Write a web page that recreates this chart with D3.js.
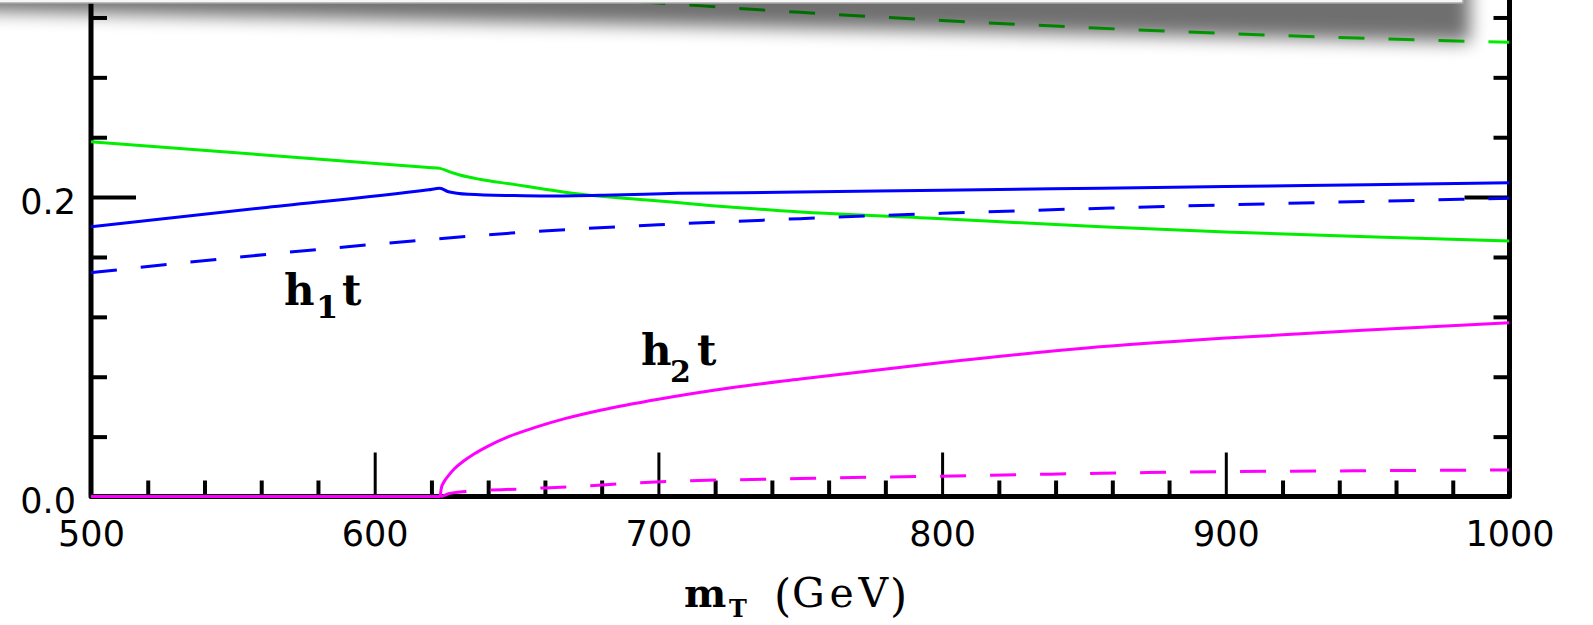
<!DOCTYPE html>
<html>
<head>
<meta charset="utf-8">
<script src="https://d3js.org/d3.v7.min.js"></script>
<style>
  body { margin: 0; background: #fff; }
  svg { display: block; }
  .tick-label text { font-family: "DejaVu Sans", sans-serif; font-size: 35px; fill: #000; }
  .label { font-family: "DejaVu Serif", serif; fill: #000; }
</style>
</head>
<body>
<div class="br-chart"></div>
<script>
// values (m_T in GeV)
var greenSolidX = [500, 560, 619, 623, 626, 630, 637, 649, 660, 672, 696, 719, 743, 800, 856, 900, 950, 1000];
var greenSolidY = [0.2370, 0.2283, 0.2198, 0.2192, 0.2172, 0.2148, 0.2119, 0.2085, 0.2052, 0.2020, 0.1981, 0.1943, 0.1909, 0.1855, 0.1802, 0.1767, 0.1735, 0.1707];

var greenDashX = [500, 600, 650, 700, 750, 800, 850, 900, 950, 1000];
var greenDashY = [0.358, 0.343, 0.336, 0.3297, 0.3234, 0.318, 0.3133, 0.3093, 0.306, 0.3034];

var blueSolidX = [500, 560, 619, 623, 626, 633, 649, 661, 684, 707, 743, 800, 856, 900, 950, 1000];
var blueSolidY = [0.1802, 0.1927, 0.2049, 0.2059, 0.2036, 0.2019, 0.2010, 0.2007, 0.2014, 0.2025, 0.2032, 0.2046, 0.2059, 0.2070, 0.2083, 0.2096];

var blueDashX = [500, 550, 600, 650, 700, 750, 800, 850, 900, 950, 1000];
var blueDashY = [0.1495, 0.1595, 0.1685, 0.1762, 0.1815, 0.1856, 0.1892, 0.1922, 0.1948, 0.1971, 0.1992];

var magSolidX = [500, 623, 623.5, 624.5, 626, 628, 631, 635, 640, 647, 656, 667, 680, 700, 725, 750, 800, 850, 900, 950, 1000];
var magSolidY = [0, 0, 0.0058, 0.0100, 0.0140, 0.0184, 0.0232, 0.0284, 0.0337, 0.0398, 0.0458, 0.0520, 0.0578, 0.0650, 0.0725, 0.0785, 0.0895, 0.0990, 0.1058, 0.1112, 0.1161];

var magDashX = [500, 623, 626, 632, 651, 676, 691, 750, 800, 856, 900, 950, 1000];
var magDashY = [0, 0, 0.0018, 0.0033, 0.0050, 0.0072, 0.0090, 0.0120, 0.0136, 0.0155, 0.0166, 0.0172, 0.0177];

var xMajorTicks = [500, 600, 700, 800, 900, 1000];
var xTickLabels = ["500", "600", "700", "800", "900", "1000"];
var yMajorTicks = [0.0, 0.2];
var yTickLabels = ["0.0", "0.2"];

var width = 1593,
    height = 625;

var svg = d3.select(".br-chart")
            .append("svg")
            .attr("width", width)
            .attr("height", height);

var x = d3.scaleLinear().domain([500, 1000]).range([91, 1509.5]);
var y = d3.scaleLinear().domain([0, 0.4]).range([496.5, -102.3]);

var xMinor = d3.range(500, 1001, 20).filter(function(v) { return v % 100 != 0; });
var yMinor = d3.range(1, 10).filter(function(i) { return i % 5 != 0; }).map(function(i) { return i * 0.04; });

function clean(g, w) {
  g.select(".domain").remove();
  g.selectAll("line").attr("stroke", "#000").attr("stroke-width", w);
}

// bottom axis ticks (pointing inward)
svg.append("g")
    .attr("transform", "translate(0," + y(0) + ")")
    .call(d3.axisTop(x).tickValues(xMinor).tickSize(16).tickFormat(""))
    .call(clean, 4);
svg.append("g")
    .attr("transform", "translate(0," + y(0) + ")")
    .call(d3.axisTop(x).tickValues(xMajorTicks.slice(1, -1)).tickSize(44).tickFormat(""))
    .call(clean, 3);

// left and right ticks
svg.append("g")
    .attr("transform", "translate(" + x(500) + ",0)")
    .call(d3.axisRight(y).tickValues(yMinor).tickSize(16).tickFormat(""))
    .call(clean, 4);
svg.append("g")
    .attr("transform", "translate(" + x(500) + ",0)")
    .call(d3.axisRight(y).tickValues(yMajorTicks).tickSize(45).tickFormat(""))
    .call(clean, 4);
svg.append("g")
    .attr("transform", "translate(" + x(1000) + ",0)")
    .call(d3.axisLeft(y).tickValues(yMinor).tickSize(16).tickFormat(""))
    .call(clean, 4);
svg.append("g")
    .attr("transform", "translate(" + x(1000) + ",0)")
    .call(d3.axisLeft(y).tickValues(yMajorTicks).tickSize(45).tickFormat(""))
    .call(clean, 4);

// tick labels
var xl = svg.append("g")
    .attr("class", "tick-label")
    .attr("transform", "translate(0," + y(0) + ")")
    .call(d3.axisBottom(x).tickValues(xMajorTicks).tickSize(0)
      .tickFormat(function(d, i) { return xTickLabels[i]; }));
xl.select(".domain").remove();
xl.selectAll("text").attr("y", 0).attr("dy", "1.41em");

var yl = svg.append("g")
    .attr("class", "tick-label")
    .attr("transform", "translate(" + x(500) + ",0)")
    .call(d3.axisLeft(y).tickValues(yMajorTicks).tickSize(0).tickPadding(15)
      .tickFormat(function(d, i) { return yTickLabels[i]; }));
yl.select(".domain").remove();
yl.selectAll("text").attr("dy", "0.46em");

// frame
svg.append("path")
    .attr("d", "M" + x(500) + ",-10V" + y(0) + "H" + x(1000) + "V-10")
    .attr("fill", "none")
    .attr("stroke", "#000")
    .attr("stroke-width", 5)
    .attr("stroke-linejoin", "round");

// curves
svg.append("clipPath")
    .attr("id", "plot-clip")
  .append("rect")
    .attr("x", x(500))
    .attr("y", y(0.4))
    .attr("width", x(1000) - x(500))
    .attr("height", y(0) - y(0.4) + 3);

var line = d3.line()
    .x(function(d) { return x(d[0]); })
    .y(function(d) { return y(d[1]); })
    .curve(d3.curveMonotoneX);

var series = [
  {xs: greenDashX, ys: greenDashY, color: "#00ee00", dash: "26,24"},
  {xs: greenSolidX, ys: greenSolidY, color: "#00ee00", dash: null},
  {xs: blueDashX, ys: blueDashY, color: "#0000ff", dash: "26,24"},
  {xs: blueSolidX, ys: blueSolidY, color: "#0000ff", dash: null},
  {xs: magDashX, ys: magDashY, color: "#ff00ff", dash: "26,24"},
  {xs: magSolidX, ys: magSolidY, color: "#ff00ff", dash: null}
];

svg.append("g")
    .attr("clip-path", "url(#plot-clip)")
  .selectAll("path")
  .data(series)
  .enter().append("path")
    .attr("d", function(s) { return line(d3.zip(s.xs, s.ys)); })
    .attr("fill", "none")
    .attr("stroke", function(s) { return s.color; })
    .attr("stroke-width", 3)
    .attr("stroke-dasharray", function(s) { return s.dash; });

// curve labels
var h1 = svg.append("text").attr("class", "label").attr("font-weight", "bold");
h1.append("tspan").attr("x", 284).attr("y", 305).attr("font-size", 42).text("h");
h1.append("tspan").attr("x", 316).attr("y", 318).attr("font-size", 32).text("1");
h1.append("tspan").attr("x", 342).attr("y", 305).attr("font-size", 42).text("t");

var h2 = svg.append("text").attr("class", "label").attr("font-weight", "bold");
h2.append("tspan").attr("x", 641).attr("y", 365).attr("font-size", 42).text("h");
h2.append("tspan").attr("x", 670).attr("y", 382).attr("font-size", 30).text("2");
h2.append("tspan").attr("x", 697).attr("y", 365).attr("font-size", 42).text("t");

// x axis title
var xt = svg.append("text").attr("class", "label");
xt.append("tspan").attr("x", 684).attr("y", 607).attr("font-size", 40).attr("font-weight", "bold").text("m");
xt.append("tspan").attr("x", 729).attr("y", 617).attr("font-size", 24).attr("font-weight", "bold").text("T");
xt.append("tspan").attr("x", 774).attr("y", 611).attr("font-size", 44).text("(");
xt.append("tspan").attr("x", 792).attr("y", 607).attr("font-size", 41)
    .attr("textLength", 96).attr("lengthAdjust", "spacing").text("GeV");
xt.append("tspan").attr("x", 890).attr("y", 611).attr("font-size", 44).text(")");

// overlapping panel with its drop shadow along the top
var defs = svg.append("defs");
defs.append("filter")
    .attr("id", "shadow-blur")
    .attr("x", "-10%").attr("y", "-100%")
    .attr("width", "120%").attr("height", "400%")
  .append("feGaussianBlur")
    .attr("stdDeviation", 9);

svg.append("polygon")
    .attr("points", "-60,-40 1470,-40 1470,42 -60,10")
    .attr("fill", "#000")
    .attr("opacity", 0.56)
    .attr("filter", "url(#shadow-blur)");

svg.append("rect")
    .attr("x", -10).attr("y", -30)
    .attr("width", 1473).attr("height", 33)
    .attr("fill", "#f6f6f6")
    .attr("stroke", "#a8a8a8")
    .attr("stroke-width", 1.5);
</script>
</body>
</html>
